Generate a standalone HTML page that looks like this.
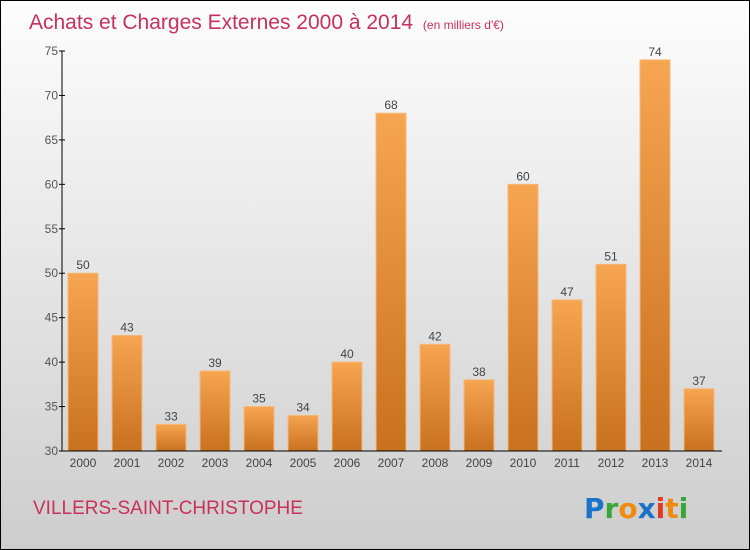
<!DOCTYPE html>
<html><head><meta charset="utf-8"><style>
body{margin:0}
#c{width:748px;height:548px;border:1px solid #000;background:linear-gradient(#fdfdfd,#cdcdcd);position:relative;overflow:hidden;font-family:"Liberation Sans",sans-serif}
</style></head><body>
<div id="c">
<svg width="748" height="548" style="position:absolute;left:0;top:0" id="svg">
<defs>
<linearGradient id="bg" x1="0" y1="0" x2="0" y2="1"><stop offset="0" stop-color="#f6a550"/><stop offset="1" stop-color="#c8711e"/></linearGradient>
</defs>
<text x="28" y="28" font-size="21" fill="#c8305f">Achats et Charges Externes 2000 à 2014 <tspan font-size="12" dx="4">(en milliers d'€)</tspan></text>
<text x="32" y="513" font-size="19" fill="#c8305f">VILLERS-SAINT-CHRISTOPHE</text>
<g font-size="28" font-weight="bold" font-family="'DejaVu Sans',sans-serif">
<text x="583" y="517"><tspan fill="#1a73c8">P</tspan><tspan fill="#3aa63a">r</tspan><tspan fill="#f08a10">o</tspan><tspan fill="#1a73c8">x</tspan><tspan fill="#e03a20">i</tspan><tspan fill="#f08a10">t</tspan><tspan fill="#3aa63a">i</tspan></text>
</g>
<g id="plot"></g>
</svg>
</div>
<script>
const years=["2000","2001","2002","2003","2004","2005","2006","2007","2008","2009","2010","2011","2012","2013","2014"];
const values=[50,43,33,39,35,34,40,68,42,38,60,47,51,74,37];
const yTicks=[30,35,40,45,50,55,60,65,70,75];
const NS="http://www.w3.org/2000/svg";
const g=document.getElementById('plot');
const yMin=30,yMax=75,pTop=50,pBot=450,axX=61;
const yS=v=>pBot-(v-yMin)/(yMax-yMin)*(pBot-pTop);
const xS=i=>82+i*44;
function mk(t,a,txt){const e=document.createElementNS(NS,t);for(const k in a)e.setAttribute(k,a[k]);if(txt!==undefined)e.textContent=txt;g.appendChild(e);return e;}
values.forEach((v,i)=>{
 const b=mk('rect',{x:xS(i)-15,y:yS(v),width:30,height:pBot-yS(v),fill:'url(#bg)',stroke:'#f8b878','stroke-width':1});
 
 
 const l=mk('text',{x:xS(i),y:yS(v)-4,'text-anchor':'middle','font-size':12,fill:'#444'},v);
 
 
 const xl=mk('text',{x:xS(i),y:466,'text-anchor':'middle','font-size':12,fill:'#444'},years[i]);
 
 
});
yTicks.forEach(t=>{
 const y=yS(t);
 const tk=mk('line',{x1:axX-3,x2:axX+3,y1:y,y2:y,stroke:'#000'});
 
 
 const tl=mk('text',{x:axX-4,y:y+4,'text-anchor':'end','font-size':12,fill:'#555'},t);
 
 
});
const ya=mk('line',{x1:axX,x2:axX,y1:pTop,y2:pBot,stroke:'#000'});


const xa=mk('line',{x1:axX,x2:721,y1:pBot,y2:pBot,stroke:'#000'});


</script>
</body></html>
